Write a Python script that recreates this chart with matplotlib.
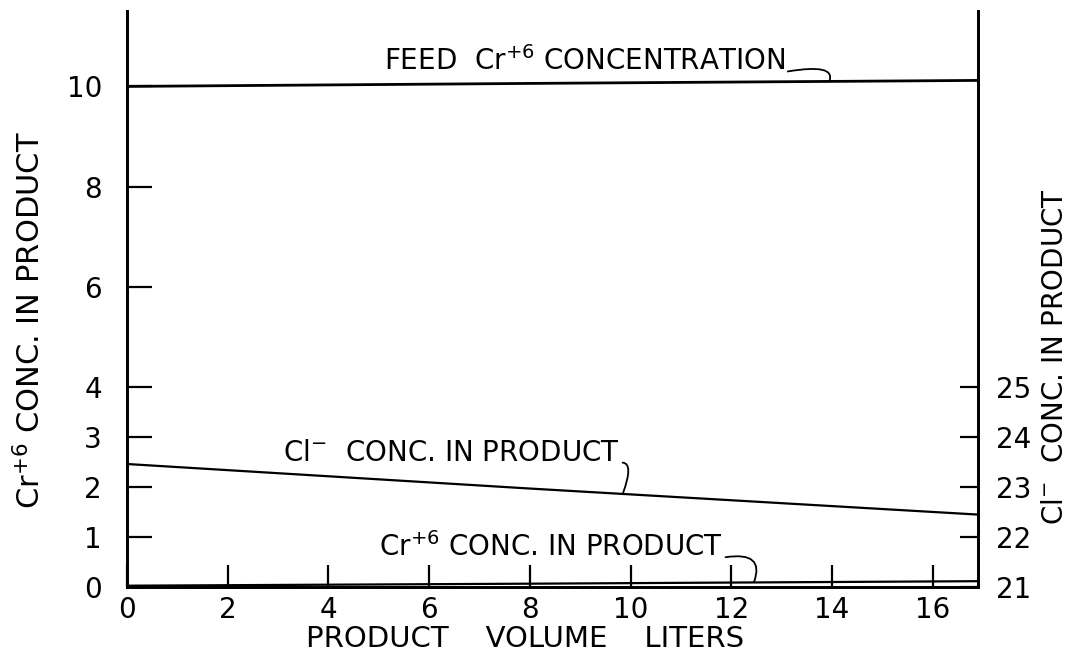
import matplotlib
matplotlib.use("Agg")
import matplotlib.pyplot as plt

# values
volume = [0.0, 8.0, 16.9]
feed_cr = [10.0, 10.06, 10.12]           # left axis
cr_product = [0.03, 0.07, 0.12]          # left axis
cl_product = [23.46, 22.97, 22.45]       # right axis

left_ticks = [0, 1, 2, 3, 4, 6, 8, 10]
right_ticks = [21, 22, 23, 24, 25]
x_ticks = [0, 2, 4, 6, 8, 10, 12, 14, 16]

plt.rcParams["font.family"] = ["DejaVu Sans"]

fig = plt.figure(figsize=(10.76, 6.65), dpi=100)
ax = fig.add_axes([0.118, 0.117, 0.791, 0.866])
ax2 = ax.twinx()

ax.set_xlim(0, 16.9)
ax.set_ylim(0, 11.5)
ax2.set_ylim(21, 32.5)

ax.plot(volume, feed_cr, color="black", lw=2.0)
ax.plot(volume, cr_product, color="black", lw=1.6)
ax2.plot(volume, cl_product, color="black", lw=1.6)

for a in (ax, ax2):
    a.spines["top"].set_visible(False)
    for s in ("left", "right", "bottom"):
        a.spines[s].set_linewidth(2.0)

ax.set_xticks(x_ticks)
ax.set_xticklabels([str(t) for t in x_ticks])
ax.set_yticks(left_ticks)
ax.set_yticklabels([str(t) for t in left_ticks])
ax2.set_yticks(right_ticks)
ax2.set_yticklabels([str(t) for t in right_ticks])

ax.tick_params(axis="y", direction="in", length=18, width=1.6, pad=18, labelsize=20)
ax.tick_params(axis="x", direction="in", length=16, width=1.6, pad=6, labelsize=20)
ax2.tick_params(axis="y", direction="in", length=13, width=1.6, pad=13, labelsize=20)

ax.set_xlabel("PRODUCT    VOLUME    LITERS", fontsize=21)
ax.xaxis.set_label_coords(0.468, -0.065)
ax.set_ylabel("Cr$^{+6}$ CONC. IN PRODUCT", fontsize=22)
ax.yaxis.set_label_coords(-0.095, 0.463)
ax2.set_ylabel("Cl$^{-}$  CONC. IN PRODUCT", fontsize=20)
ax2.yaxis.set_label_coords(1.074, 0.40)

# in-plot labels with small hooked leaders
hook = dict(arrowstyle="-", lw=1.3, color="black",
            connectionstyle="angle3,angleA=10,angleB=70",
            shrinkA=0, shrinkB=0, relpos=(1.0, 0.15))
ax.annotate("FEED  Cr$^{+6}$ CONCENTRATION", xy=(13.95, 10.11), xytext=(5.1, 10.2),
            fontsize=20, va="bottom", ha="left", arrowprops=hook)
ax.annotate("Cl$^{-}$  CONC. IN PRODUCT", xy=(9.85, 1.88), xytext=(3.1, 2.4),
            fontsize=20, va="bottom", ha="left", arrowprops=hook)
ax.annotate("Cr$^{+6}$ CONC. IN PRODUCT", xy=(12.45, 0.1), xytext=(5.0, 0.5),
            fontsize=20, va="bottom", ha="left", arrowprops=hook)

fig.savefig("out.png", dpi=100)
